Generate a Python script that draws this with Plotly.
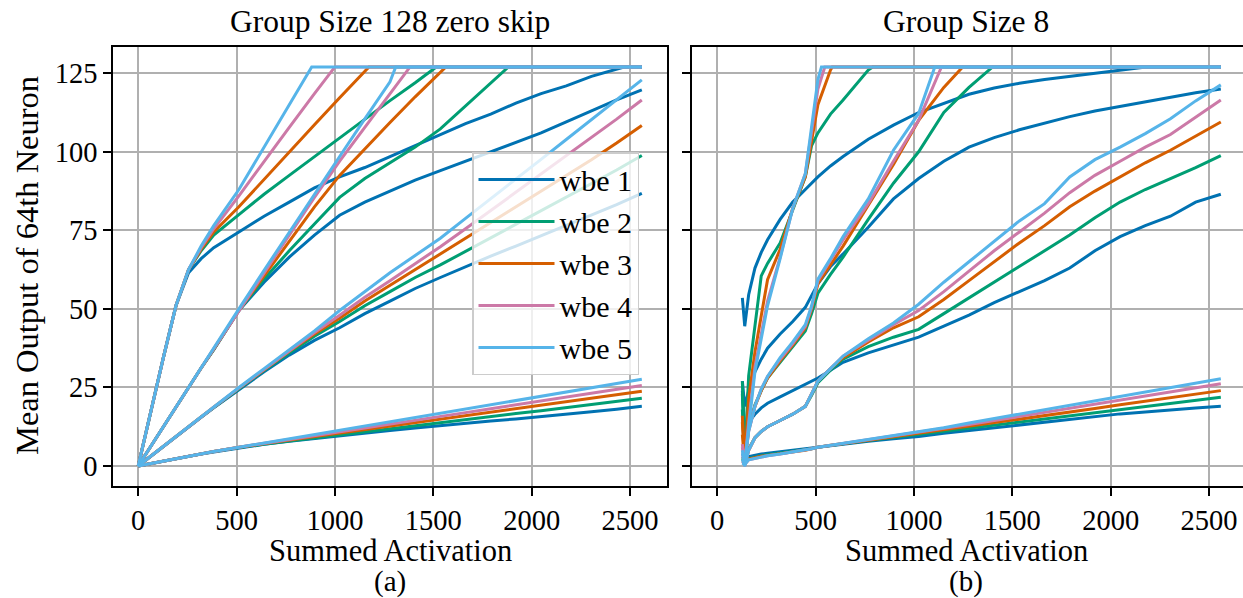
import plotly.graph_objects as go

# ---------------- data ----------------
SAT_LEVEL = 127
x_left = [0, 64, 128, 192, 256, 320, 384, 512, 640, 768, 896, 1024, 1152, 1280, 1408, 1536,
          1664, 1792, 1920, 2048, 2176, 2304, 2432, 2560]
x_right = [128, 140, 160, 192, 224, 256, 320, 384, 448, 480, 512, 576, 640, 768,
           896, 1024, 1152, 1280, 1408, 1536, 1664, 1792, 1920, 2048, 2176, 2304, 2432, 2560]

labels = ["wbe 1", "wbe 2", "wbe 3", "wbe 4", "wbe 5"]
colors = ["#0072B2", "#009E73", "#D55E00", "#CC79A7", "#56B4E9"]

# ---- (a) Group Size 128 zero skip : groups A (steepest) .. D (flattest); order wbe1..wbe5
left_A = [
    [0, 17.5, 34.5, 51, 61.5, 66, 69.5, 74.5, 79.5, 84, 88.5, 92, 95, 98.5, 102, 105.5, 109, 112, 115.5, 118.5, 121, 124, 126.5],
    [0, 17.5, 34.5, 51, 62.5, 68.5, 73.5, 80, 86.5, 92.5, 98.5, 104.5, 110.5, 116.3, 122],
    [0, 17.5, 34.5, 51, 62.5, 69, 74.5, 82.5, 91.3, 100, 108.6, 117.2, 125.8],
    [0, 17.5, 34.5, 51, 62.5, 69.5, 75.5, 86, 97, 107.8, 118.5],
    [0, 17.5, 34.5, 51, 62.5, 70, 76.5, 88, 101.5, 115],
]
left_A_sat = [2470, 1515, 1173, 1000, 882]
left_B = [
    [0, 6.3, 12.6, 18.8, 25, 31.2, 37, 49.5, 58.5, 66.5, 73.5, 79.8, 84, 87.5, 91, 94, 97, 100, 103, 106, 109.5, 113, 116.5, 119.7],
    [0, 6.3, 12.6, 18.8, 25, 31.2, 37, 49.5, 59.5, 68.5, 77, 85.5, 91.5, 96.5, 101.5, 107.3, 114.5, 121.7],
    [0, 6.3, 12.6, 18.8, 25, 31.2, 37.2, 49.5, 60.5, 71.5, 82.5, 92.5, 101, 109.3, 117.5, 125.5],
    [0, 6.3, 12.6, 18.8, 25, 31.2, 37.3, 49.5, 61.5, 73.5, 85.5, 97, 107.8, 118.5],
    [0, 6.3, 12.6, 18.8, 25, 31.2, 37.5, 50, 62.3, 74.5, 86.5, 98.5, 110.5, 122.3],
]
left_B_sat = [None, 1882, 1564, 1382, 1309]
left_C = [
    [0, 3.15, 6.3, 9.4, 12.4, 15.5, 18.5, 24.3, 30, 35.3, 40, 44, 48.5, 52.5, 56.5, 60, 63.5, 66.8, 70, 73.3, 76.6, 79.9, 83.2, 86.8],
    [0, 3.15, 6.3, 9.4, 12.5, 15.6, 18.6, 24.6, 30.4, 36, 41.3, 46, 51, 55.5, 60, 64, 68.3, 72.6, 76.9, 81.2, 85.5, 89.8, 94.2, 98.8],
    [0, 3.15, 6.3, 9.4, 12.5, 15.6, 18.7, 24.8, 30.7, 36.5, 42, 47, 52.5, 57.5, 62.5, 67.5, 72.5, 77.5, 82.5, 87.5, 92.5, 97.5, 102.8, 108.4],
    [0, 3.15, 6.3, 9.4, 12.5, 15.6, 18.7, 24.8, 30.8, 36.7, 42.5, 48, 53.7, 59, 64.3, 69.8, 75.5, 81.3, 87, 93, 98.8, 104.6, 110.4, 116.5],
    [0, 3.15, 6.3, 9.4, 12.5, 15.6, 18.8, 25, 31, 37, 43, 49.5, 55.5, 61.5, 67, 72.5, 78.8, 85, 91.3, 97.6, 103.9, 110.2, 116.5, 122.9],
]
left_D = [
    [0, 0.8, 1.6, 2.35, 3.1, 3.85, 4.5, 5.8, 6.9, 7.9, 8.8, 9.7, 10.5, 11.3, 12.1, 12.9, 13.6, 14.3, 15, 15.7, 16.5, 17.3, 18.1, 19],
    [0, 0.8, 1.6, 2.35, 3.1, 3.85, 4.6, 5.9, 7, 7.95, 8.9, 9.9, 10.85, 11.8, 12.8, 13.8, 14.75, 15.7, 16.7, 17.6, 18.6, 19.6, 20.6, 21.6],
    [0, 0.8, 1.6, 2.35, 3.1, 3.85, 4.6, 6.0, 7.1, 8.2, 9.35, 10.4, 11.5, 12.6, 13.7, 14.8, 15.9, 17, 18.1, 19.2, 20.3, 21.4, 22.6, 23.8],
    [0, 0.8, 1.6, 2.35, 3.1, 3.85, 4.6, 6.0, 7.2, 8.45, 9.65, 10.9, 12.1, 13.35, 14.6, 15.8, 17, 18.25, 19.5, 20.7, 21.9, 23.15, 24.4, 25.6],
    [0, 0.8, 1.6, 2.35, 3.1, 3.85, 4.6, 6.0, 7.35, 8.7, 10.05, 11.4, 12.75, 14.1, 15.45, 16.8, 18.15, 19.5, 20.85, 22.2, 23.55, 24.9, 26.25, 27.6],
]

# ---- (b) Group Size 8
right_A = [
    [53.5, 44.5, 54.5, 63, 68, 72, 78.5, 84, 88, 90, 92, 95.5, 98.5, 104, 108.5, 112.5, 115.5, 118.3, 120.3, 121.8, 123, 124, 125, 126],
    [27, 2, 28.7, 45.6, 60.5, 64.5, 71, 81.5, 92, 102, 106, 112, 116.5, 126],
    [16, 1, 21.5, 36.3, 47.8, 59.3, 69, 82, 92, 103, 115, 126],
    [7, 0.5, 14, 31.5, 42, 52.5, 66.5, 82, 93, 106, 120],
    [5, 0, 12.5, 30, 40.5, 51, 66, 82, 93, 108, 123],
]
right_A_sat = [2180, 790, 585, 547, 530]
right_B = [
    [27, 19, 24, 30, 34, 37.5, 42, 46, 50.5, 54.5, 58, 63.5, 67.5, 76, 85, 91.5, 97, 101.5, 104.5, 107, 109.2, 111.2, 113, 114.5, 116, 117.5, 118.8, 120],
    [23, 2, 12, 19.5, 24, 28, 33, 38, 43, 48.5, 55, 61, 66.5, 78.5, 90, 100, 112.5, 120.5],
    [14, 1.5, 11.5, 19, 24, 28, 33.5, 38.5, 44, 50, 58, 64, 70, 83, 96, 110, 120.5],
    [6, 1, 11, 19, 24.5, 28.5, 34, 39, 44.5, 50.5, 59, 65.5, 72, 83.5, 97, 110],
    [4, 1, 11, 19, 24.5, 28.5, 34.5, 39.5, 45, 51, 59.5, 66, 73, 85, 100.5, 112.2],
]
right_B_sat = [None, 1400, 1248, 1140, 1106]
right_C = [
    [24, 11, 14, 16.5, 18.5, 20, 22, 24, 26, 27, 28, 30.5, 33, 36, 38.5, 41, 44.5, 48, 52, 55.5, 59, 63, 68.5, 73, 76.5, 79.5, 84, 86.5],
    [18, 1, 5.5, 9, 11, 12.5, 14.5, 16.5, 19, 22.5, 26.5, 30.5, 34, 38, 41, 43.5, 48.5, 53.5, 58.5, 63.5, 68.5, 73.5, 79, 84, 88, 91.5, 95, 98.8],
    [10, 0.5, 5, 9, 11, 12.5, 14.5, 16.5, 19, 23, 27, 31, 34.5, 39.5, 44, 47.5, 53, 59, 65, 71, 76.5, 82.5, 87.5, 92, 96.5, 100.5, 105, 109.5],
    [4, 0, 5, 9, 11, 12.5, 14.5, 16.5, 19, 23, 27, 31, 35, 40, 45, 49.5, 55.5, 62, 68.5, 74.5, 80.5, 87, 92.5, 97, 101.5, 105.5, 111, 116.5],
    [2, 0, 5, 9, 11, 12.5, 14.5, 16.5, 19, 23, 27, 31, 35, 40.5, 45.5, 51.5, 58.5, 65, 71.5, 78, 83.5, 92, 97.5, 101.5, 105.8, 110.5, 116.2, 121.3],
]
right_D = [
    [3, 2, 3, 3.5, 3.8, 4.1, 4.6, 5, 5.4, 5.7, 6, 6.6, 7.1, 7.9, 8.7, 9.4, 10.4, 11.3, 12.2, 13.2, 14, 14.9, 15.8, 16.6, 17.2, 17.9, 18.5, 19],
    [2.5, 1, 2.4, 2.9, 3.3, 3.6, 4.1, 4.6, 5.1, 5.5, 6, 6.6, 7.1, 8.1, 9.1, 10.1, 11.1, 12.1, 13, 14, 15, 16, 17, 18, 18.9, 19.9, 20.9, 21.9],
    [2, 1, 2.2, 2.7, 3.1, 3.4, 3.9, 4.5, 5, 5.5, 6, 6.6, 7.2, 8.2, 9.3, 10.4, 11.5, 12.7, 13.8, 14.9, 16.1, 17.2, 18.3, 19.5, 20.6, 21.7, 22.9, 24],
    [1.5, 0.5, 2, 2.5, 3, 3.3, 3.8, 4.4, 5, 5.5, 6, 6.6, 7.2, 8.3, 9.5, 10.6, 11.9, 13.2, 14.5, 15.8, 17.1, 18.4, 19.7, 21, 22.3, 23.6, 24.9, 26.2],
    [1, 0.5, 2, 2.5, 3, 3.3, 3.8, 4.4, 5, 5.5, 6, 6.6, 7.2, 8.4, 9.6, 10.8, 12.2, 13.7, 15.1, 16.5, 17.9, 19.3, 20.8, 22.2, 23.6, 25, 26.4, 27.8],
]

x_ticks = [0, 500, 1000, 1500, 2000, 2500]
y_ticks = [0, 25, 50, 75, 100, 125]


def series(xs, ys, sat=None):
    px = list(xs[:len(ys)])
    py = list(ys)
    if len(ys) < len(xs):
        px += [sat, xs[-1]]
        py += [SAT_LEVEL, SAT_LEVEL]
    return px, py


FONT = "Liberation Serif, Times New Roman, serif"
fig = go.Figure()

panels = [
    ("x", "y", x_left, [(left_A, left_A_sat), (left_B, left_B_sat), (left_C, None), (left_D, None)]),
    ("x2", "y2", x_right, [(right_A, right_A_sat), (right_B, right_B_sat), (right_C, None), (right_D, None)]),
]
for k in range(5):
    first = True
    for xa, ya, xs, groups in panels:
        for grp, sats in groups:
            sx, sy = series(xs, grp[k], sats[k] if sats else None)
            fig.add_trace(go.Scatter(
                x=sx, y=sy, mode="lines", xaxis=xa, yaxis=ya,
                line=dict(color=colors[k], width=3),
                name=labels[k], legendgroup=labels[k], showlegend=first,
                hoverinfo="skip"))
            first = False

W, H = 1243, 598
ML, MT, MB = 113, 47, 112
PW = W - ML
PH = H - MT - MB
left_end = 667
right_start = 692
scale = 2816 / (left_end - ML)

axis_common = dict(
    showgrid=True, gridcolor="#b0b0b0", gridwidth=1.6,
    showline=True, linecolor="black", linewidth=1.6,
    ticks="outside", ticklen=8, tickwidth=1.6, tickcolor="black",
    zeroline=False, tickfont=dict(family=FONT, size=28.5, color="black"),
)
fig.update_layout(
    width=W, height=H,
    margin=dict(l=ML, r=0, t=MT, b=MB),
    paper_bgcolor="white", plot_bgcolor="white",
    font=dict(family=FONT, size=29, color="black"),
    xaxis=dict(domain=[0, (left_end - ML) / PW], range=[-128, 2688],
               tickvals=x_ticks, mirror=True, **axis_common),
    xaxis2=dict(domain=[(right_start - ML) / PW, 1],
                range=[-128, -128 + (W - right_start) * scale],
                tickvals=x_ticks, mirror=True, anchor="y2", **axis_common),
    yaxis=dict(domain=[0, 1], range=[-6.35, 133.35], tickvals=y_ticks,
               mirror=True, **axis_common),
    yaxis2=dict(domain=[0, 1], range=[-6.35, 133.35], tickvals=y_ticks,
                showticklabels=False, anchor="x2", mirror=False, **axis_common),
    legend=dict(
        x=(472 - ML) / PW, y=(H - MB - 152) / PH, xanchor="left", yanchor="top",
        bgcolor="rgba(255,255,255,0.8)", bordercolor="#cccccc", borderwidth=1.5,
        font=dict(family=FONT, size=30, color="black"),
        itemwidth=76, tracegroupgap=0, traceorder="normal",
    ),
    showlegend=True,
)


def py2paper(py):
    return (H - MB - py) / PH


def px2paper(px):
    return (px - ML) / PW


left_c = (ML + left_end) / 2
right_c = 966
ann = [
    dict(text="Group Size 128 zero skip", x=px2paper(left_c), y=py2paper(22), size=31.5),
    dict(text="Group Size 8", x=px2paper(right_c), y=py2paper(22), size=31.5),
    dict(text="Summed Activation", x=px2paper(left_c), y=py2paper(551), size=30.5),
    dict(text="Summed Activation", x=px2paper(right_c), y=py2paper(551), size=30.5),
    dict(text="(a)", x=px2paper(left_c), y=py2paper(581), size=29),
    dict(text="(b)", x=px2paper(right_c), y=py2paper(581), size=29),
]
for a in ann:
    size = a.pop("size")
    fig.add_annotation(xref="paper", yref="paper", showarrow=False,
                       xanchor="center", yanchor="middle",
                       font=dict(family=FONT, size=size, color="black"), **a)
fig.add_annotation(text="Mean Output of 64th Neuron", xref="paper", yref="paper",
                   x=px2paper(27), y=py2paper(266), textangle=-90, showarrow=False,
                   xanchor="center", yanchor="middle",
                   font=dict(family=FONT, size=32.5, color="black"))

fig.write_html("out.html")
